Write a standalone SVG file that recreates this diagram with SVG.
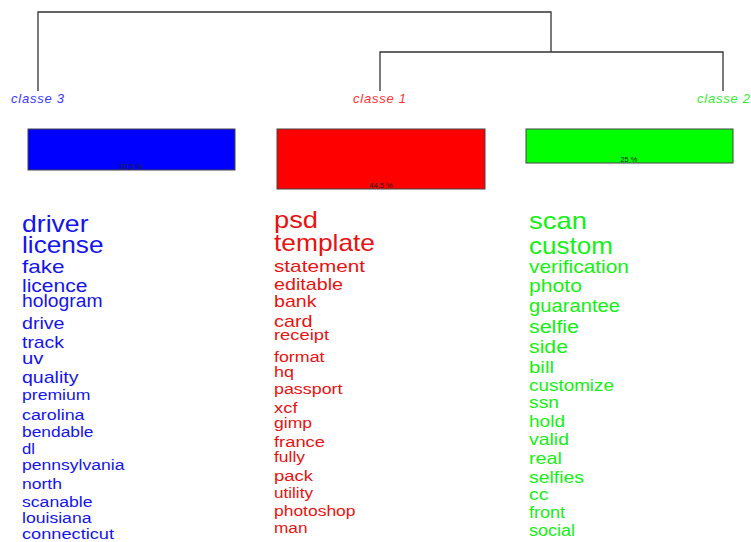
<svg xmlns="http://www.w3.org/2000/svg" width="751" height="542" viewBox="0 0 751 542">
<style>
.den{fill:none;stroke:#333;stroke-width:1.3}
.cl{font-family:"Liberation Sans",Arial,sans-serif;font-style:italic;font-size:13px}
.bar{stroke:#444;stroke-width:1}
.pct{font-family:"Liberation Sans",Arial,sans-serif;font-size:7.5px;fill:#222;text-anchor:middle}
.w{font-family:"Liberation Sans",Arial,sans-serif}
.b{fill:#1414ee}
.r{fill:#e81212}
.g{fill:#14f014}
</style>
<rect width="751" height="542" fill="#fff"/>
<g id="connectors">
<path class="den" d="M38,91 V12 H551 V52"/>
<path class="den" d="M380,91 V52 H723 V91"/>
</g>
<g id="classe3">
<text class="cl" x="11" y="103" fill="#3838ff" textLength="53" lengthAdjust="spacing">classe  3</text>
<rect class="bar" x="28" y="129" width="207" height="41" fill="#0000ff"/>
<text class="pct" x="131" y="169">30.5 %</text>
<g class="w b">
<text x="22" y="232" font-size="24" textLength="66.5" lengthAdjust="spacingAndGlyphs">driver</text>
<text x="22" y="253" font-size="24" textLength="81.5" lengthAdjust="spacingAndGlyphs">license</text>
<text x="22" y="273" font-size="19" textLength="42.5" lengthAdjust="spacingAndGlyphs">fake</text>
<text x="22" y="292" font-size="18" textLength="65.5" lengthAdjust="spacingAndGlyphs">licence</text>
<text x="22" y="307" font-size="18" textLength="80.5" lengthAdjust="spacingAndGlyphs">hologram</text>
<text x="22" y="329" font-size="17" textLength="42.5" lengthAdjust="spacingAndGlyphs">drive</text>
<text x="22" y="348" font-size="17" textLength="42" lengthAdjust="spacingAndGlyphs">track</text>
<text x="22" y="364" font-size="16.5" textLength="21.5" lengthAdjust="spacingAndGlyphs">uv</text>
<text x="22" y="383" font-size="17" textLength="56.5" lengthAdjust="spacingAndGlyphs">quality</text>
<text x="22" y="400" font-size="15.5" textLength="68.5" lengthAdjust="spacingAndGlyphs">premium</text>
<text x="22" y="420" font-size="15.5" textLength="62.5" lengthAdjust="spacingAndGlyphs">carolina</text>
<text x="22" y="437" font-size="15.5" textLength="71.5" lengthAdjust="spacingAndGlyphs">bendable</text>
<text x="22" y="454" font-size="15.5" textLength="13" lengthAdjust="spacingAndGlyphs">dl</text>
<text x="22" y="470" font-size="15.5" textLength="102.5" lengthAdjust="spacingAndGlyphs">pennsylvania</text>
<text x="22" y="489" font-size="15.5" textLength="40" lengthAdjust="spacingAndGlyphs">north</text>
<text x="22" y="507" font-size="15.5" textLength="70.5" lengthAdjust="spacingAndGlyphs">scanable</text>
<text x="22" y="523" font-size="15.5" textLength="69.5" lengthAdjust="spacingAndGlyphs">louisiana</text>
<text x="22" y="539" font-size="15.5" textLength="92" lengthAdjust="spacingAndGlyphs">connecticut</text>
</g>
</g>
<g id="classe1">
<text class="cl" x="353" y="103" fill="#ff3030" textLength="53" lengthAdjust="spacing">classe  1</text>
<rect class="bar" x="277" y="129" width="208" height="60" fill="#ff0000"/>
<text class="pct" x="381" y="188">44.5 %</text>
<g class="w r">
<text x="274" y="228" font-size="24" textLength="44" lengthAdjust="spacingAndGlyphs">psd</text>
<text x="274" y="251" font-size="24" textLength="101" lengthAdjust="spacingAndGlyphs">template</text>
<text x="274" y="272" font-size="17" textLength="91" lengthAdjust="spacingAndGlyphs">statement</text>
<text x="274" y="290" font-size="17" textLength="69" lengthAdjust="spacingAndGlyphs">editable</text>
<text x="274" y="307" font-size="17" textLength="42.5" lengthAdjust="spacingAndGlyphs">bank</text>
<text x="274" y="327" font-size="17" textLength="38.5" lengthAdjust="spacingAndGlyphs">card</text>
<text x="274" y="340" font-size="15.5" textLength="55" lengthAdjust="spacingAndGlyphs">receipt</text>
<text x="274" y="362" font-size="15.5" textLength="50.5" lengthAdjust="spacingAndGlyphs">format</text>
<text x="274" y="377" font-size="15.5" textLength="20" lengthAdjust="spacingAndGlyphs">hq</text>
<text x="274" y="394" font-size="15.5" textLength="68.5" lengthAdjust="spacingAndGlyphs">passport</text>
<text x="274" y="413" font-size="15.5" textLength="23.5" lengthAdjust="spacingAndGlyphs">xcf</text>
<text x="274" y="428" font-size="15.5" textLength="38" lengthAdjust="spacingAndGlyphs">gimp</text>
<text x="274" y="447" font-size="15.5" textLength="51" lengthAdjust="spacingAndGlyphs">france</text>
<text x="274" y="462" font-size="15.5" textLength="31" lengthAdjust="spacingAndGlyphs">fully</text>
<text x="274" y="481" font-size="15.5" textLength="39" lengthAdjust="spacingAndGlyphs">pack</text>
<text x="274" y="498" font-size="15.5" textLength="39" lengthAdjust="spacingAndGlyphs">utility</text>
<text x="274" y="516" font-size="15.5" textLength="81.5" lengthAdjust="spacingAndGlyphs">photoshop</text>
<text x="274" y="533" font-size="15.5" textLength="33.5" lengthAdjust="spacingAndGlyphs">man</text>
</g>
</g>
<g id="classe2">
<text class="cl" x="697" y="103" fill="#30f030" textLength="53" lengthAdjust="spacing">classe  2</text>
<rect class="bar" x="526" y="129" width="207" height="34" fill="#00ff00"/>
<text class="pct" x="629" y="162">25 %</text>
<g class="w g">
<text x="529" y="229" font-size="24" textLength="58" lengthAdjust="spacingAndGlyphs">scan</text>
<text x="529" y="254" font-size="24" textLength="84" lengthAdjust="spacingAndGlyphs">custom</text>
<text x="529" y="273" font-size="18.5" textLength="100" lengthAdjust="spacingAndGlyphs">verification</text>
<text x="529" y="292" font-size="18.5" textLength="53" lengthAdjust="spacingAndGlyphs">photo</text>
<text x="529" y="312" font-size="18" textLength="91" lengthAdjust="spacingAndGlyphs">guarantee</text>
<text x="529" y="333" font-size="17.5" textLength="50" lengthAdjust="spacingAndGlyphs">selfie</text>
<text x="529" y="353" font-size="17.5" textLength="39" lengthAdjust="spacingAndGlyphs">side</text>
<text x="529" y="373" font-size="16.5" textLength="25" lengthAdjust="spacingAndGlyphs">bill</text>
<text x="529" y="391" font-size="16.5" textLength="85" lengthAdjust="spacingAndGlyphs">customize</text>
<text x="529" y="408" font-size="16.5" textLength="30" lengthAdjust="spacingAndGlyphs">ssn</text>
<text x="529" y="427" font-size="16.5" textLength="36" lengthAdjust="spacingAndGlyphs">hold</text>
<text x="529" y="445" font-size="16.5" textLength="40" lengthAdjust="spacingAndGlyphs">valid</text>
<text x="529" y="464" font-size="16.5" textLength="33" lengthAdjust="spacingAndGlyphs">real</text>
<text x="529" y="483" font-size="16.5" textLength="55" lengthAdjust="spacingAndGlyphs">selfies</text>
<text x="529" y="500" font-size="16.5" textLength="19.5" lengthAdjust="spacingAndGlyphs">cc</text>
<text x="529" y="518" font-size="16" textLength="36" lengthAdjust="spacingAndGlyphs">front</text>
<text x="529" y="536" font-size="16" textLength="46" lengthAdjust="spacingAndGlyphs">social</text>
</g>
</g>
</svg>
